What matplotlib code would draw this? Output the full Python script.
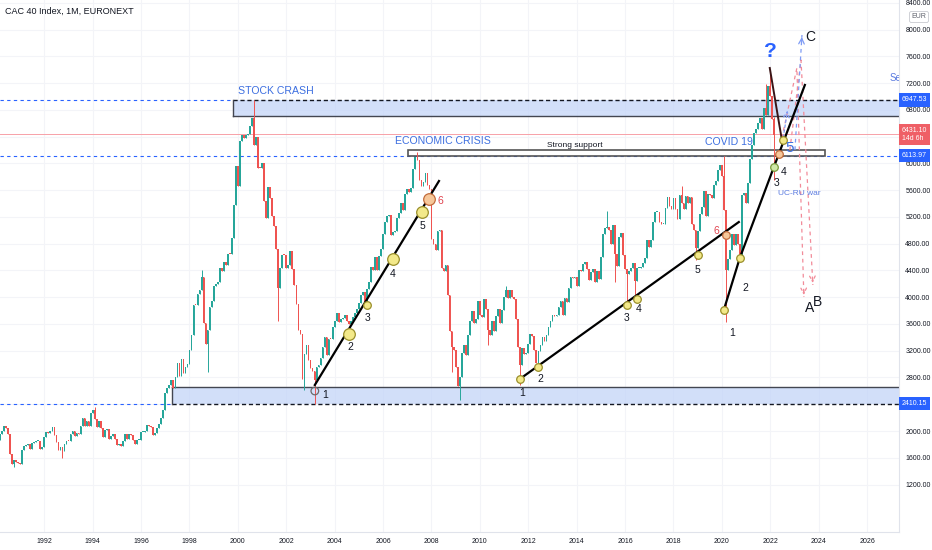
import matplotlib
matplotlib.use("Agg")
import matplotlib.pyplot as plt
from matplotlib import font_manager
from matplotlib.patches import Rectangle
import numpy as np

installed = {f.name for f in font_manager.fontManager.ttflist}
HAS_NARROW = "Liberation Sans Narrow" in installed
NARROW = "Liberation Sans Narrow" if HAS_NARROW else "Liberation Sans"
AXIS_FS = 5.6 if HAS_NARROW else 5.0
TITLE_FS = 8.5 if HAS_NARROW else 7.6
plt.rcParams["font.family"] = ["Liberation Sans", "DejaVu Sans"]

# CAC 40 monthly closes, one row per year, Jan 1990 .. Mar 2022
first_year = 1990
open_first = 2001
closes = [
    1845, 1862, 1950, 2000, 2080, 2050, 1960, 1650, 1510, 1565, 1530, 1518,  # 1990
    1505, 1720, 1775, 1790, 1800, 1725, 1815, 1830, 1845, 1850, 1735, 1766,  # 1991
    1915, 1990, 1965, 2005, 2060, 1935, 1830, 1720, 1760, 1700, 1810, 1858,  # 1992
    1850, 1960, 2000, 1930, 1970, 1960, 2070, 2190, 2080, 2150, 2080, 2268,  # 1993
    2320, 2180, 2060, 2150, 2040, 1910, 2020, 2030, 1880, 1920, 1950, 1881,  # 1994
    1790, 1800, 1780, 1850, 1960, 1880, 1960, 1940, 1860, 1800, 1860, 1872,  # 1995
    1980, 1990, 2000, 2090, 2080, 2060, 1940, 1970, 2050, 2100, 2200, 2316,  # 1996
    2570, 2640, 2690, 2760, 2650, 2800, 3020, 2820, 3070, 2860, 2950, 2999,  # 1997
    3210, 3440, 3890, 3880, 4050, 4100, 4300, 3610, 3300, 3510, 3850, 3943,  # 1998
    4174, 4190, 4230, 4440, 4390, 4530, 4480, 4650, 4648, 4881, 5373, 5958,  # 1999
    5660, 6330, 6420, 6380, 6420, 6440, 6560, 6680, 6270, 6400, 5930, 5926,  # 2000
    5998, 5430, 5180, 5640, 5480, 5220, 5070, 4720, 4130, 4440, 4630, 4625,  # 2001
    4430, 4480, 4688, 4420, 4180, 3900, 3510, 3450, 2780, 3150, 3290, 3064,  # 2002
    2940, 2890, 2760, 2960, 2990, 3090, 3250, 3400, 3140, 3380, 3370, 3558,  # 2003
    3640, 3770, 3630, 3670, 3690, 3730, 3640, 3600, 3640, 3710, 3760, 3821,  # 2004
    3910, 4030, 4070, 3910, 4120, 4230, 4450, 4400, 4600, 4400, 4620, 4715,  # 2005
    4950, 5130, 5220, 5230, 4930, 4970, 4990, 5180, 5260, 5400, 5300, 5542,  # 2006
    5610, 5570, 5630, 5920, 6100, 6050, 5750, 5660, 5720, 5850, 5670, 5614,  # 2007
    4870, 4790, 4710, 4990, 5010, 4430, 4390, 4480, 4030, 3490, 3260, 3218,  # 2008
    2950, 2680, 2810, 3160, 3280, 3140, 3430, 3650, 3790, 3610, 3680, 3936,  # 2009
    3740, 3710, 3970, 3820, 3510, 3440, 3640, 3500, 3720, 3830, 3610, 3805,  # 2010
    4000, 4110, 3990, 4110, 4010, 3980, 3670, 3260, 2980, 3240, 3150, 3160,  # 2011
    3300, 3450, 3420, 3210, 3020, 3200, 3290, 3410, 3350, 3430, 3560, 3641,  # 2012
    3730, 3720, 3730, 3860, 3950, 3740, 3990, 3930, 4140, 4300, 4290, 4296,  # 2013
    4170, 4410, 4390, 4490, 4520, 4420, 4250, 4380, 4420, 4230, 4390, 4273,  # 2014
    4600, 4950, 5030, 5050, 5010, 4790, 5080, 4650, 4460, 4900, 4960, 4637,  # 2015
    4420, 4350, 4390, 4430, 4510, 4240, 4440, 4440, 4450, 4510, 4580, 4862,  # 2016
    4750, 4860, 5120, 5270, 5280, 5120, 5090, 5090, 5330, 5500, 5370, 5313,  # 2017
    5480, 5320, 5170, 5520, 5400, 5320, 5510, 5410, 5490, 5090, 5000, 4731,  # 2018
    4990, 5240, 5350, 5590, 5210, 5540, 5520, 5480, 5680, 5730, 5900, 5978,  # 2019
    5810, 5310, 4400, 4570, 4700, 4940, 4780, 4950, 4800, 4590, 5520, 5551,  # 2020
    5400, 5700, 6070, 6270, 6450, 6510, 6610, 6680, 6520, 6830, 6720, 7153,  # 2021
    7000, 6659, 6431,                                                        # 2022
]
# wick extremes that stand out on the chart, (year, month): price
wick_high = {(1994, 2): 2355, (1998, 7): 4404, (2000, 9): 6944, (2007, 6): 6168,
             (2011, 2): 4170, (2015, 4): 5283, (2018, 5): 5657, (2020, 2): 6111,
             (2021, 11): 7183, (2022, 1): 7384, (2022, 3): 6700}
wick_low = {(1990, 10): 1460, (1992, 10): 1600, (1998, 10): 2880, (2001, 9): 3650,
            (2002, 10): 2612, (2003, 3): 2401, (2008, 11): 2880, (2009, 3): 2465,
            (2010, 5): 3290, (2011, 9): 2693, (2012, 6): 2950, (2015, 8): 4230,
            (2016, 2): 3892, (2016, 6): 3956, (2018, 12): 4555, (2020, 3): 3632,
            (2020, 10): 4570, (2022, 3): 5756}

# horizontal levels
stock_crash_zone = (6707, 6947.53)
support_zone = (2410.15, 2658)
strong_support = (6113.97, 6200)
last_price = 6431.10
hidden_ticks = [2400, 6400]  # covered by the price labels on the axis

# wave counts (date as fractional year, price)
trend1 = [(2003.18, 2688), (2008.31, 5736)]
trend1_pts = [(2003.18, 2598), (2004.59, 3450), (2005.33, 3883), (2006.40, 4570), (2007.60, 5273), (2007.89, 5467)]
trend1_lbl = [("1", 2003.62, 2538), ("2", 2004.63, 3256), ("3", 2005.37, 3689),
              ("4", 2006.40, 4346), ("5", 2007.64, 5063), ("6", 2008.37, 5437)]
trend2 = [(2011.65, 2777), (2020.70, 5123)]
trend2_pts = [(2011.65, 2777), (2012.40, 2956), (2016.07, 3883), (2016.49, 3973), (2019.01, 4630), (2020.17, 4929)]
trend2_lbl = [("1", 2011.74, 2568), ("2", 2012.48, 2777), ("3", 2016.07, 3689),
              ("4", 2016.57, 3824), ("5", 2019.01, 4406), ("6", 2019.79, 4989)]
trend3 = [(2020.08, 3808), (2020.74, 4585), (2022.15, 5945), (2023.43, 7171)]
trend3_pts = [(2020.08, 3808), (2020.74, 4585), (2022.15, 5945), (2022.36, 6140), (2022.52, 6349)]
trend3_lbl = [("1", 2020.41, 3465), ("2", 2020.99, 4137), ("3", 2022.27, 5706), ("4", 2022.55, 5870)]

ymin, ymax = 491, 8441
xmin, xmax = 1990.17, 2027.32

fig = plt.figure(figsize=(9.32, 5.5), dpi=100)
ax = fig.add_axes([0, 18 / 550, 899 / 932, 532 / 550])
ax.set_xlim(xmin, xmax)
ax.set_ylim(ymin, ymax)

# candles
closes = np.array(closes, dtype=float)
opens = np.concatenate([[open_first], closes[:-1]])
n = len(closes)
dates = first_year + np.arange(n) / 12
highs = np.maximum(opens, closes)
lows = np.minimum(opens, closes)
for i in range(n):
    key = (first_year + i // 12, i % 12 + 1)
    highs[i] = max(highs[i], wick_high.get(key, 0))
    lows[i] = min(lows[i], wick_low.get(key, 1e9))
up = closes >= opens
colors = np.where(up, "#26a69a", "#ef5350")
ax.vlines(dates, lows, highs, colors=colors, lw=0.7, zorder=4)
body = np.maximum(np.abs(closes - opens), 15)
ax.bar(dates, body, bottom=np.minimum(opens, closes), width=0.07,
       color=colors, edgecolor="none", zorder=4)

# grid / axes look
yt = np.arange(1200, 8401, 400)
ax.set_yticks(yt)
ax.set_yticklabels(["" if v in hidden_ticks else f"{v:.2f}" for v in yt], family=NARROW)
ax.set_xticks(np.arange(1992, 2027, 2))
ax.set_xticklabels([str(y) for y in range(1992, 2027, 2)], family=NARROW)
ax.yaxis.tick_right()
ax.tick_params(axis="both", length=0, labelsize=AXIS_FS, colors="#131722")
ax.tick_params(axis="y", pad=4.5)
ax.tick_params(axis="x", pad=4)
ax.grid(color="#f3f4f8", lw=0.8, zorder=0)
for s in ["top", "left"]:
    ax.spines[s].set_visible(False)
for s in ["right", "bottom"]:
    ax.spines[s].set_color("#e0e3eb")
    ax.spines[s].set_linewidth(0.8)

# zones
box_fc = "#c4d5f8"
ax.add_patch(Rectangle((1999.79, stock_crash_zone[0]), xmax - 1999.79 + 1, stock_crash_zone[1] - stock_crash_zone[0],
                       facecolor=box_fc, alpha=0.75, edgecolor="none", zorder=2))
ax.plot([1999.79, xmax], [stock_crash_zone[0]] * 2, color="#434651", lw=1.0, zorder=2.5)
ax.plot([1999.79, xmax], [stock_crash_zone[1]] * 2, color="#131722", lw=1.0, ls=(0, (3, 2)), zorder=2.5)
ax.plot([1999.79, 1999.79], stock_crash_zone, color="#434651", lw=1.0, zorder=2.5)
ax.plot([xmin, 1999.79], [stock_crash_zone[1]] * 2, color="#2962ff", lw=0.8, ls=(0, (3, 3)), zorder=2)

ax.add_patch(Rectangle((1997.27, support_zone[0]), xmax - 1997.27 + 1, support_zone[1] - support_zone[0],
                       facecolor=box_fc, alpha=0.75, edgecolor="none", zorder=2))
ax.plot([1997.27, xmax], [support_zone[1]] * 2, color="#434651", lw=1.0, zorder=2.5)
ax.plot([1997.27, xmax], [support_zone[0]] * 2, color="#131722", lw=1.0, ls=(0, (3, 2)), zorder=2.5)
ax.plot([1997.27, 1997.27], support_zone, color="#434651", lw=1.0, zorder=2.5)
ax.plot([xmin, 1997.27], [support_zone[0]] * 2, color="#2962ff", lw=0.8, ls=(0, (3, 3)), zorder=2)

ax.axhline(strong_support[0], color="#2962ff", lw=0.8, ls=(0, (3, 3)), zorder=2)
ax.add_patch(Rectangle((2007.02, strong_support[0]), 2024.26 - 2007.02, strong_support[1] - strong_support[0],
                       facecolor="white", edgecolor="#555555", lw=1.2, zorder=3))
ax.axhline(last_price, color="#f7a1a8", lw=0.7, zorder=2)

# zone titles
blue_txt = "#3d6fe0"
ax.text(2000.0, 7081, "STOCK CRASH", color=blue_txt, fontsize=TITLE_FS, family=NARROW, va="center", zorder=6)
ax.text(2006.49, 6334, "ECONOMIC CRISIS", color=blue_txt, fontsize=TITLE_FS, family=NARROW, va="center", zorder=6)
ax.text(2019.30, 6319, "COVID 19", color=blue_txt, fontsize=TITLE_FS, family=NARROW, va="center", zorder=6)
ax.text(2013.93, 6274, "Strong support", color="#131722", fontsize=6, ha="center", va="center", zorder=6)

# trend lines and wave points
def draw_wave(line, pts, lbls, big, colors_pts):
    xs, ys = zip(*line)
    ax.plot(xs, ys, color="black", lw=1.6, zorder=7)
    for (px, py), b, (fc, ec) in zip(pts, big, colors_pts):
        ax.scatter([px], [py], s=70 if b else 30, facecolor=fc, edgecolor=ec, lw=0.9, zorder=8)
    for t, lx, ly in lbls:
        c = "#e0434f" if t == "6" else "#131722"
        ax.text(lx, ly, t, fontsize=7.5, color=c, ha="center", va="center", zorder=8)

yel = ("#f3e98a", "#9a8f2a")
org = ("#f6c79a", "#c26c3c")
opn = ("none", "#6b6b6b")
draw_wave(trend1, trend1_pts, trend1_lbl, [0, 1, 0, 1, 1, 1], [opn, yel, yel, yel, yel, org])
draw_wave(trend2, trend2_pts, trend2_lbl, [0, 0, 0, 0, 0, 0], [yel, yel, yel, yel, yel, org])
draw_wave(trend3, trend3_pts, trend3_lbl, [0, 0, 0, 0, 0], [yel, yel, ("#cfe8a8", "#7a9a3a"), org, yel])

# 2022 top and projections
ax.plot([2021.98, 2022.48], [7425, 6349], color="#3a1416", lw=1.4, zorder=7)
ax.text(2022.02, 7664, "?", color="#2962ff", fontsize=15, fontweight="bold", ha="center", va="center", zorder=8)
ax.text(2022.81, 6229, "5", color="#3d6fe0", fontsize=11, ha="center", va="center", zorder=8)
pink = "#f28b99"
ax.plot([2022.48, 2023.10, 2023.39], [6379, 7425, 4003], color=pink, lw=0.9, ls=(0, (3, 3)), zorder=6)
ax.plot([2022.81, 2023.27, 2023.76], [6199, 7544, 4183], color=pink, lw=0.9, ls=(0, (3, 3)), zorder=6)
ax.annotate("", xy=(2023.39, 3990), xytext=(2023.38, 4150),
            arrowprops=dict(arrowstyle="->", color=pink, lw=0.9, ls=(0, (2, 2))), zorder=6)
ax.annotate("", xy=(2023.76, 4170), xytext=(2023.74, 4330),
            arrowprops=dict(arrowstyle="->", color=pink, lw=0.9, ls=(0, (2, 2))), zorder=6)
bl = "#7f9cf5"
ax.plot([2023.02, 2023.31], [6199, 7918], color=bl, lw=0.9, ls=(0, (3, 3)), zorder=6)
ax.annotate("", xy=(2023.31, 7930), xytext=(2023.29, 7780),
            arrowprops=dict(arrowstyle="->", color=bl, lw=0.9), zorder=6)
ax.annotate("", xy=(2022.73, 6830), xytext=(2022.52, 6349),
            arrowprops=dict(arrowstyle="->", color=bl, lw=0.9, ls=(0, (2, 2))), zorder=6)
ax.text(2023.64, 7888, "C", color="#131722", fontsize=10, ha="center", va="center", zorder=8)
ax.text(2023.64, 3839, "A", color="#131722", fontsize=10, ha="center", va="center", zorder=8)
ax.text(2023.97, 3929, "B", color="#131722", fontsize=10, ha="center", va="center", zorder=8)
ax.text(2023.18, 5555, "UC-RU war", color="#5b7be0", fontsize=6, family=NARROW, ha="center", va="center", zorder=8)
ax.text(2026.92, 7275, "Sell", color="#5b7be0", fontsize=7, va="center", zorder=8, clip_on=True)

# price labels on the axis
ytr = ax.get_yaxis_transform()
for v, txt, fc in [(6947.53, "6947.53", "#2962ff"), (6113.97, "6113.97", "#2962ff"),
                   (2410.15, "2410.15", "#2962ff"), (last_price, "6431.10\n14d 6h", "#ef5f66")]:
    ax.text(1.003, v, txt, transform=ytr, fontsize=AXIS_FS, family=NARROW, color="white", ha="left", va="center",
            linespacing=1.3, bbox=dict(boxstyle="square,pad=0.45", fc=fc, ec="none"), clip_on=False, zorder=10)

fig.text(919 / 932, 1 - 17 / 550, "EUR", fontsize=5, color="#5d606b", ha="center", va="center",
         bbox=dict(boxstyle="round,pad=0.3", fc="white", ec="#c8cad0", lw=0.6))
fig.text(5 / 932, 1 - 11 / 550, "CAC 40 Index, 1M, EURONEXT", fontsize=6.5, color="#131722",
         ha="left", va="center")

fig.savefig("out.png", dpi=100)
